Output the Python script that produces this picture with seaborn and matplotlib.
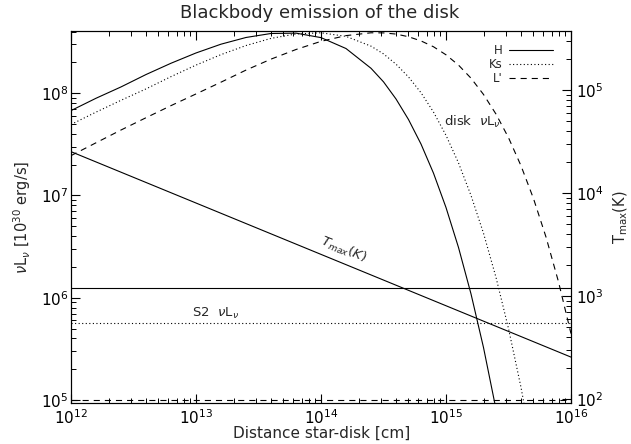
import numpy as np
import pandas as pd
import matplotlib
matplotlib.use("Agg")
import matplotlib.pyplot as plt
from matplotlib.lines import Line2D
from matplotlib.ticker import LogLocator, NullFormatter
import seaborn as sns

# ---- data -------------------------------------------------------------
# distance star-disk grid, log10(r / cm)
log_dist = [12.0, 12.2, 12.4, 12.6, 12.8, 13.0, 13.2, 13.4, 13.6, 13.8, 14.0, 14.2, 14.4,
            14.5, 14.6, 14.7, 14.8, 14.9, 15.0, 15.1, 15.2, 15.3, 15.4, 15.5, 15.6, 15.7,
            15.8, 15.9, 16.0]

bands = ["H", "Ks", "L'"]

# disk nuL_nu [1e30 erg/s] in each band (on the distance grid above)
disk_H = [6.75e7, 8.91e7, 1.15e8, 1.52e8, 1.96e8, 2.47e8, 3.01e8, 3.50e8, 3.83e8, 3.86e8,
          3.49e8, 2.73e8, 1.75e8, 1.29e8, 8.77e7, 5.52e7, 3.18e7, 1.65e7, 7.62e6, 3.10e6,
          1.09e6, 3.26e5, 8.13e4]
disk_Ks = [4.94e7, 6.52e7, 8.51e7, 1.10e8, 1.45e8, 1.88e8, 2.38e8, 2.92e8, 3.43e8, 3.79e8,
           3.89e8, 3.59e8, 2.88e8, 2.42e8, 1.92e8, 1.44e8, 1.01e8, 6.53e7, 3.87e7, 2.08e7,
           1.00e7, 4.27e6, 1.58e6, 5.00e5, 1.33e5, 2.90e4]
disk_Lp = [2.45e7, 3.27e7, 4.36e7, 5.75e7, 7.55e7, 9.82e7, 1.28e8, 1.68e8, 2.15e8, 2.67e8,
           3.21e8, 3.65e8, 3.89e8, 3.88e8, 3.78e8, 3.56e8, 3.24e8, 2.84e8, 2.37e8, 1.88e8,
           1.40e8, 9.71e7, 6.24e7, 3.67e7, 1.95e7, 9.31e6, 3.92e6, 1.43e6, 4.46e5]

# S2 nuL_nu [1e30 erg/s] in H, Ks, L'
s2_nuLnu = [1.25e6, 5.7e5, 1.0e5]

# maximum disk temperature [K] vs distance [cm]
tmax_dist = [1e12, 1e16]
tmax_K = [2.52e4, 255.0]

# ---- long-format table for seaborn ------------------------------------
dist = 10.0 ** np.array(log_dist)
frames = []
for band, vals in zip(bands, [disk_H, disk_Ks, disk_Lp]):
    frames.append(pd.DataFrame({"distance": dist[:len(vals)],
                                "nuLnu": vals,
                                "band": band}))
disk = pd.concat(frames, ignore_index=True)
tmax = pd.DataFrame({"distance": tmax_dist, "T": tmax_K})

# ---- style --------------------------------------------------------------
sns.set_style("ticks")
plt.rcParams["font.family"] = ["DejaVu Sans"]
plt.rcParams["mathtext.fontset"] = "dejavusans"
plt.rcParams["axes.linewidth"] = 0.8

dash_map = {"H": "", "Ks": (1.0, 2.2), "L'": (5.5, 4.5)}
LW = 0.8

W, H = 631, 444


def fpos(x, y):
    return x / W, 1 - y / H


fig = plt.figure(figsize=(W / 100, H / 100), dpi=100)
ax = fig.add_axes([71 / W, 41 / H, 500 / W, 372 / H])

sns.lineplot(data=disk, x="distance", y="nuLnu", style="band", style_order=bands,
             dashes=dash_map, color="k", lw=LW, estimator=None, legend=False, ax=ax)

for val, band in zip(s2_nuLnu, bands):
    ls = "-" if dash_map[band] == "" else (0, dash_map[band])
    ax.axhline(val, color="k", lw=LW, linestyle=ls)

ax.set_xscale("log")
ax.set_yscale("log")
ax.set_xlim(1e12, 1e16)
ax.set_ylim(9.35e4, 4.05e8)
ax.set_xlabel("")
ax.set_ylabel("")

ax2 = ax.twinx()
sns.lineplot(data=tmax, x="distance", y="T", color="k", lw=LW, ax=ax2)
ax2.set_yscale("log")
ax2.set_ylim(91.4, 3.74e5)
ax2.set_xlim(1e12, 1e16)
ax2.set_ylabel("")

minor = dict(base=10.0, subs=np.arange(2, 10), numticks=100)
ax.xaxis.set_minor_locator(LogLocator(**minor))
ax.yaxis.set_minor_locator(LogLocator(**minor))
ax2.yaxis.set_minor_locator(LogLocator(**minor))
for axis in (ax.xaxis, ax.yaxis, ax2.yaxis):
    axis.set_minor_formatter(NullFormatter())

for a in (ax, ax2):
    for s in a.spines.values():
        s.set_color("k")
        s.set_linewidth(0.8)

ax.tick_params(which="both", direction="in", top=True, right=False, colors="k",
               labelsize=11)
ax.tick_params(which="major", length=6.5, width=0.8)
ax.tick_params(which="minor", length=3.5, width=0.7)
ax.tick_params(axis="y", pad=2)
ax.tick_params(axis="x", pad=4)
ax2.tick_params(which="both", direction="in", left=False, right=True, colors="k",
                labelsize=11, pad=3.5)
ax2.tick_params(which="major", length=6.5, width=0.8)
ax2.tick_params(which="minor", length=3.5, width=0.7)

# legend
handles = [Line2D([], [], color="k", lw=LW,
                  linestyle="-" if dash_map[b] == "" else (0, dash_map[b])) for b in bands]
ax.legend(handles, bands, loc="upper right", bbox_to_anchor=fpos(553, 44),
          bbox_transform=fig.transFigure, frameon=False, markerfirst=False,
          handlelength=3.7, handletextpad=0.6, labelspacing=0.08, fontsize=8.5,
          borderpad=0, borderaxespad=0)

# titles and labels
fig.text(*fpos(320, 13), "Blackbody emission of the disk", ha="center", va="center",
         fontsize=13)
fig.text(*fpos(322, 433), "Distance star-disk [cm]", ha="center", va="center",
         fontsize=11)
fig.text(*fpos(22, 217), r"$\nu$L$_\nu$ [10$^{30}$ erg/s]", ha="center", va="center",
         rotation=90, fontsize=10.5)
fig.text(*fpos(621, 217), r"T$_{\rm max}$(K)", ha="center", va="center",
         rotation=90, fontsize=10.5)

# annotations
fig.text(*fpos(472, 122), r"disk  $\nu$L$_\nu$", ha="center", va="center", fontsize=9.5)
fig.text(*fpos(216, 313), r"S2  $\nu$L$_\nu$", ha="center", va="center", fontsize=9.5)
fig.text(*fpos(344, 250), r"$T_{max}(K)$", ha="center", va="center", fontsize=9.5,
         rotation=-22)

fig.savefig("out.png", dpi=100)
